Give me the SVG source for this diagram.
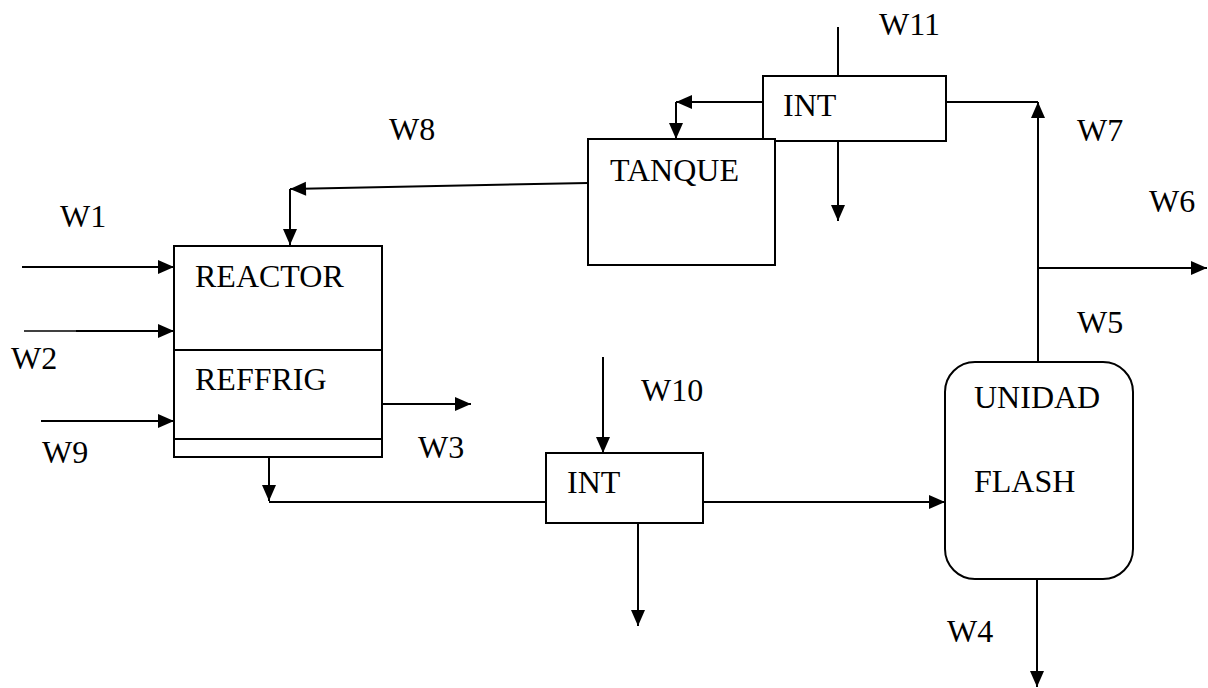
<svg xmlns="http://www.w3.org/2000/svg" width="1208" height="688" viewBox="0 0 1208 688">
<style>
.box{fill:#fff;stroke:#000;stroke-width:2}
.c{fill:none;stroke:#000;stroke-width:2}
.t{font-family:"Liberation Serif","Times New Roman",serif;font-size:32px;fill:#000}
</style>
<defs>
<marker id="ah" markerUnits="userSpaceOnUse" markerWidth="16" markerHeight="14" refX="16" refY="7" orient="auto" viewBox="0 0 16 14" overflow="visible">
<path d="M0,0 L16,7 L0,14 z" fill="#000"/>
</marker>
</defs>
<rect width="1208" height="688" fill="#fff"/>
<g id="connectors">
<path class="c" d="M838,27 V76"/>
<path class="c" d="M763,102 H676" marker-end="url(#ah)"/>
<path class="c" d="M676,102 V139" marker-end="url(#ah)"/>
<path class="c" d="M838,141 V221" marker-end="url(#ah)"/>
<path class="c" d="M946,102 H1038"/>
<path class="c" d="M1038,362 V102" marker-end="url(#ah)"/>
<path class="c" d="M1038,268 H1207" marker-end="url(#ah)"/>
<path class="c" d="M1037,579 V687" marker-end="url(#ah)"/>
<path class="c" d="M588,183 L290,189" marker-end="url(#ah)"/>
<path class="c" d="M290,189 V245" marker-end="url(#ah)"/>
<path class="c" d="M22,267 H174" marker-end="url(#ah)"/>
<path fill="none" stroke="#000" stroke-width="1.3" d="M24,331 H77"/>
<path class="c" d="M76,331 H174" marker-end="url(#ah)"/>
<path class="c" d="M41,421 H174" marker-end="url(#ah)"/>
<path class="c" d="M382,404 H471" marker-end="url(#ah)"/>
<path class="c" d="M269,457 V501" marker-end="url(#ah)"/>
<path class="c" d="M269,502 H546"/>
<path class="c" d="M603,357 V453" marker-end="url(#ah)"/>
<path class="c" d="M638,523 V626" marker-end="url(#ah)"/>
<path class="c" d="M703,502 H945" marker-end="url(#ah)"/>
</g>
<g id="int-top">
<rect class="box" x="763" y="76" width="183" height="65"/>
<text class="t" x="783" y="116">INT</text>
</g>
<g id="tanque">
<rect class="box" x="588" y="139" width="187" height="126"/>
<text class="t" x="610" y="181">TANQUE</text>
</g>
<g id="reactor">
<rect class="box" x="174" y="246" width="208" height="211"/>
<path class="c" d="M174,350 H382 M174,439 H382"/>
<text class="t" x="195" y="287">REACTOR</text>
<text class="t" x="195" y="390">REFFRIG</text>
</g>
<g id="int-bottom">
<rect class="box" x="546" y="453" width="157" height="70"/>
<text class="t" x="567" y="493">INT</text>
</g>
<g id="flash">
<rect class="box" x="945" y="362" width="188" height="217" rx="30" ry="30"/>
<text class="t" x="974" y="408">UNIDAD</text>
<text class="t" x="974" y="492">FLASH</text>
</g>
<g id="labels">
<text class="t" x="879" y="35">W11</text>
<text class="t" x="389" y="140">W8</text>
<text class="t" x="1077" y="141">W7</text>
<text class="t" x="1149" y="212">W6</text>
<text class="t" x="60" y="227">W1</text>
<text class="t" x="11" y="369">W2</text>
<text class="t" x="42" y="463">W9</text>
<text class="t" x="418" y="458">W3</text>
<text class="t" x="641" y="401">W10</text>
<text class="t" x="1077" y="333">W5</text>
<text class="t" x="947" y="642">W4</text>
</g>
</svg>
